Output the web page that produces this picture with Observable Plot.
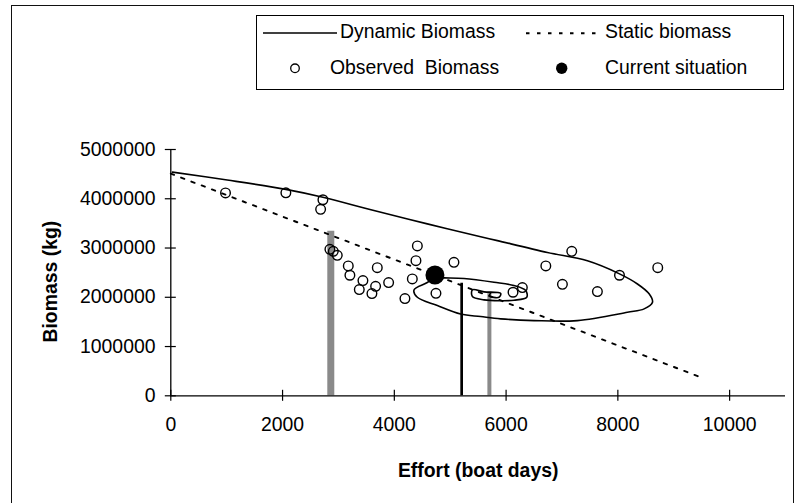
<!DOCTYPE html>
<html><head><meta charset="utf-8">
<script src="https://cdn.jsdelivr.net/npm/d3@7"></script>
<script src="https://cdn.jsdelivr.net/npm/@observablehq/plot@0.6"></script>
<style>
html,body{margin:0;padding:0;background:#fff;overflow:hidden}
#wrap{position:relative;width:803px;height:503px;overflow:hidden;font-family:"Liberation Sans",Arial,sans-serif}
#frame{position:absolute;left:10.5px;top:5px;width:783px;height:520px;border:1.5px solid #111;box-sizing:border-box;pointer-events:none}
#chart{position:absolute;left:0;top:0}
#legendBox{position:absolute;left:256px;top:15px;width:528px;height:75px;border:1px solid #000;box-sizing:border-box;background:#fff}
#legendSym{position:absolute;left:256px;top:15px}
.lg{position:absolute;font-size:19.4px;line-height:1;white-space:pre;color:#000;transform:translateY(-50%)}
</style></head>
<body><div id="wrap"><div id="frame"></div><div id="chart"></div><div id="legendBox"></div><svg id="legendSym" width="528" height="75"></svg></div>
<script>
// ---- data ----
const effortTicks = [0, 2000, 4000, 6000, 8000, 10000];
const effortTickLabels = ["0", "2000", "4000", "6000", "8000", "10000"];
const biomassTicks = [0, 1000000, 2000000, 3000000, 4000000, 5000000];
const biomassTickLabels = ["0", "1000000", "2000000", "3000000", "4000000", "5000000"];

const dynamicEffort = [30, 1010, 2059, 2722, 3635, 4590, 5545, 5844, 6739, 7455, 8029, 8351, 8559, 8620, 8470, 8172, 7276, 6500, 5903, 5545, 5187, 4770, 4412, 4352, 4590, 4720, 4889, 5247, 5784, 6142, 6351, 6370, 6142, 5903, 5605, 5397, 5397, 5605, 5903, 5873, 5700, 5720];
const dynamicBiomass = [4540000, 4380000, 4190000, 4030000, 3760000, 3490000, 3230000, 3150000, 2910000, 2740000, 2475000, 2270000, 2070000, 1900000, 1765000, 1696000, 1527000, 1527000, 1562000, 1609000, 1660000, 1832000, 2000000, 2150000, 2300000, 2400000, 2393000, 2380000, 2304000, 2237000, 2136000, 2000000, 1940000, 1930000, 1947000, 2014000, 2150000, 2110000, 2080000, 2000000, 2030000, 2080000];

const staticEffort = [0, 9450];
const staticBiomass = [4510000, 390000];

const observedEffort = [979, 2059, 2722, 2681, 2847, 2908, 2979, 3176, 3205, 3695, 3438, 3373, 3665, 3599, 3898, 4412, 4387, 4322, 4190, 4745, 5067, 7175, 6711, 8029, 8714, 7008, 7634, 6291, 6124];
const observedBiomass = [4118000, 4120000, 3980000, 3785000, 2974000, 2933000, 2852000, 2637000, 2447000, 2602000, 2339000, 2156000, 2223000, 2075000, 2298000, 3043000, 2744000, 2373000, 1974000, 2081000, 2710000, 2933000, 2637000, 2447000, 2602000, 2264000, 2116000, 2197000, 2102000];

const currentEffort = [4727];
const currentBiomass = [2454000];

const barEffort = [2863, 5205, 5701];
const barBiomass = [3340000, 2285000, 2100000];

const legendLabels = ["Dynamic Biomass", "Static biomass", "Observed  Biomass", "Current situation"];

// ---- build tables ----
const dyn = dynamicEffort.map((x, i) => ({x, y: dynamicBiomass[i]}));
const stat = staticEffort.map((x, i) => ({x, y: staticBiomass[i]}));
const obs = observedEffort.map((x, i) => ({x, y: observedBiomass[i]}));
const cur = currentEffort.map((x, i) => ({x, y: currentBiomass[i]}));
const bars = barEffort.map((x, i) => ({x, y: barBiomass[i]}));
const barStyles = [{stroke: "#8a8a8a", w: 7}, {stroke: "#000", w: 2.7}, {stroke: "#8a8a8a", w: 4}];

const font = "'Liberation Sans', Arial, sans-serif";
const chart = Plot.plot({
  width: 803, height: 503,
  marginLeft: 170.3, marginRight: 18, marginTop: 149, marginBottom: 107.7,
  x: {domain: [0, 11000]},
  y: {domain: [0, 5000000]},
  style: {fontFamily: font, fontSize: "19.4px", color: "#000", background: "transparent", overflow: "visible"},
  marks: [
    ...bars.map((b, i) => Plot.ruleX([b], {x: "x", y1: 0, y2: "y", stroke: barStyles[i].stroke, strokeWidth: barStyles[i].w})),
    Plot.line(stat, {x: "x", y: "y", stroke: "#000", strokeWidth: 1.9, strokeDasharray: "3.5,7.5"}),
    Plot.line(dyn, {x: "x", y: "y", stroke: "#000", strokeWidth: 1.6, curve: "catmull-rom"}),
    Plot.dot(obs, {x: "x", y: "y", r: 4.8, stroke: "#000", strokeWidth: 1.4, fill: "none"}),
    Plot.dot(cur, {x: "x", y: "y", r: 9.5, fill: "#000", stroke: "none"}),
    Plot.ruleY([0], {stroke: "#000", strokeWidth: 1.3}),
    Plot.ruleX([0], {stroke: "#000", strokeWidth: 1.3}),
    Plot.axisX({ticks: effortTicks, tickSize: 11, dy: -5.5, tickFormat: () => "", label: null, strokeWidth: 1.2}),
    Plot.axisX({ticks: effortTicks, tickSize: 0, tickPadding: 21, tickFormat: d => effortTickLabels[effortTicks.indexOf(d)], label: null, fontSize: 19.4}),
    Plot.axisY({ticks: biomassTicks, tickSize: 11, dx: 5.5, tickFormat: () => "", label: null, strokeWidth: 1.2}),
    Plot.axisY({ticks: biomassTicks, tickSize: 0, tickPadding: 15.3, tickFormat: d => biomassTickLabels[biomassTicks.indexOf(d)], label: null, fontSize: 19.4}),
    Plot.text(["Effort (boat days)"], {text: d => d, frameAnchor: "bottom", dy: 74.7, lineAnchor: "middle", fontWeight: "bold", fontSize: 19.4}),
    Plot.text(["Biomass (kg)"], {text: d => d, frameAnchor: "left", dx: -120.3, dy: 9, rotate: -90, lineAnchor: "middle", textAnchor: "middle", fontWeight: "bold", fontSize: 19.4})
  ]
});
document.getElementById("chart").appendChild(chart);

// ---- legend ----
const lg = d3.select("#legendSym");
lg.append("line").attr("x1", 7).attr("x2", 81).attr("y1", 18).attr("y2", 18).attr("stroke", "#000").attr("stroke-width", 1.6);
lg.append("line").attr("x1", 270).attr("x2", 340).attr("y1", 18.3).attr("y2", 18.3).attr("stroke", "#000").attr("stroke-width", 1.9).attr("stroke-dasharray", "3.5,7.5");
lg.append("circle").attr("cx", 39).attr("cy", 53.3).attr("r", 4.3).attr("fill", "none").attr("stroke", "#000").attr("stroke-width", 1.3);
lg.append("circle").attr("cx", 305.7).attr("cy", 53.3).attr("r", 5.7).attr("fill", "#000");
const legendPos = [[340, 31.7], [605, 31.7], [330, 67.8], [605, 67.8]];
const wrap = document.getElementById("wrap");
legendLabels.forEach((t, i) => {
  const d = document.createElement("div");
  d.className = "lg";
  d.textContent = t;
  d.style.left = legendPos[i][0] + "px";
  d.style.top = legendPos[i][1] + "px";
  wrap.appendChild(d);
});
</script></body></html>
